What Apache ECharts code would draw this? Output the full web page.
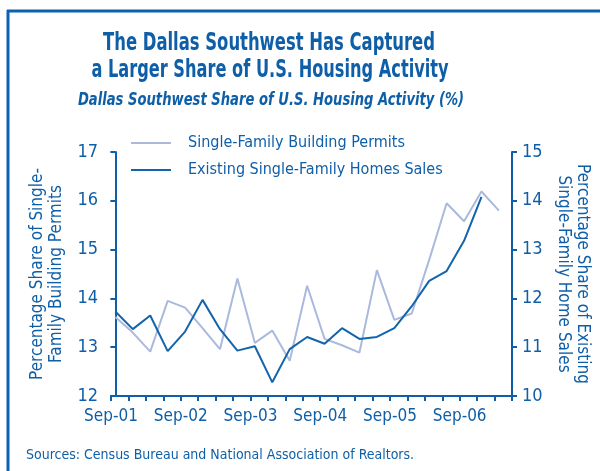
<!DOCTYPE html>
<html>
<head>
<meta charset="utf-8">
<script src="https://cdn.jsdelivr.net/npm/echarts@6/dist/echarts.min.js"></script>
<style>
  html, body { margin: 0; padding: 0; background: #fff; }
  #chart { width: 600px; height: 471px; }
</style>
</head>
<body>
<div id="chart"></div>
<script>
  // quarterly observations, first one just after Sep-01
  const tickLabels = ['Sep-01', 'Sep-02', 'Sep-03', 'Sep-04', 'Sep-05', 'Sep-06'];
  const permits = [13.62, 13.3, 12.91, 13.95, 13.81, 13.39, 12.96, 14.41, 13.09, 13.34, 12.72,
                   14.26, 13.17, 13.04, 12.89, 14.58, 13.56, 13.69, 14.79, 15.95, 15.58, 16.19, 15.8];
  const homeSales = [11.73, 11.37, 11.65, 10.92, 11.32, 11.97, 11.37, 10.93, 11.02, 10.28, 10.96,
                     11.21, 11.07, 11.39, 11.17, 11.21, 11.39, 11.84, 12.36, 12.56, 13.18, 14.08];

  const blue = '#0f5fa8';
  const font = '"DejaVu Sans Condensed", "Liberation Sans Narrow", Roboto, sans-serif';

  const chart = echarts.init(document.getElementById('chart'));

  const option = {
    animation: false,
    textStyle: { fontFamily: font, color: blue },
    grid: { left: 111, right: 88, top: 152, bottom: 75 },
    legend: {
      orient: 'vertical',
      left: 126,
      top: 130,
      icon: 'rect',
      itemWidth: 40,
      itemHeight: 2,
      itemGap: 11,
      textStyle: { fontFamily: font, fontSize: 16, color: blue, padding: [0, 0, 0, 12] },
      data: ['Single-Family Building Permits', 'Existing Single-Family Homes Sales']
    },
    xAxis: {
      type: 'value',
      min: -0.25,
      max: 22.75,
      interval: 1,
      splitLine: { show: false },
      axisLine: { lineStyle: { color: blue, width: 2 } },
      axisTick: { lineStyle: { color: blue, width: 2 }, length: 5 },
      axisLabel: {
        color: blue,
        fontSize: 17,
        margin: 12,
        formatter: v => {
          const q = Math.round(v + 0.25);
          return q % 4 === 0 && tickLabels[q / 4] ? tickLabels[q / 4] : '';
        }
      }
    },
    yAxis: [
      {
        type: 'value',
        min: 12,
        max: 17,
        interval: 1,
        splitLine: { show: false },
        axisLine: { show: true, lineStyle: { color: blue, width: 2 } },
        axisTick: { show: true, lineStyle: { color: blue, width: 2 }, length: 5 },
        axisLabel: { color: blue, fontSize: 18, margin: 13 },
        name: 'Percentage Share of Single-\nFamily Building Permits',
        nameLocation: 'middle',
        nameGap: 38,
        nameTextStyle: { fontSize: 17, color: blue, lineHeight: 19 }
      },
      {
        type: 'value',
        min: 10,
        max: 15,
        interval: 1,
        position: 'right',
        splitLine: { show: false },
        axisLine: { show: true, lineStyle: { color: blue, width: 2 } },
        axisTick: { show: true, lineStyle: { color: blue, width: 2 }, length: 5 },
        axisLabel: { color: blue, fontSize: 18, margin: 10 },
        name: 'Percentage Share of Existing\nSingle-Family Home Sales',
        nameLocation: 'middle',
        nameRotate: -90,
        nameGap: 42,
        nameTextStyle: { fontSize: 17, color: blue, lineHeight: 19 }
      }
    ],
    series: [
      {
        name: 'Single-Family Building Permits',
        type: 'line',
        yAxisIndex: 0,
        symbol: 'none',
        lineStyle: { color: '#aab9dc', width: 2 },
        itemStyle: { color: '#aab9dc' },
        data: permits.map((v, i) => [i, v])
      },
      {
        name: 'Existing Single-Family Homes Sales',
        type: 'line',
        yAxisIndex: 1,
        symbol: 'none',
        lineStyle: { color: '#1264ad', width: 2 },
        itemStyle: { color: '#1264ad' },
        data: homeSales.map((v, i) => [i, v])
      }
    ],
    graphic: [
      { type: 'line', shape: { x1: 7, y1: 11, x2: 600, y2: 11 }, style: { stroke: '#0b62b0', lineWidth: 3 } },
      { type: 'line', shape: { x1: 8, y1: 10, x2: 8, y2: 471 }, style: { stroke: '#0b62b0', lineWidth: 3 } },
      {
        type: 'text', x: 269, y: 43, scaleX: 0.73,
        style: { text: 'The Dallas Southwest Has Captured', align: 'center', verticalAlign: 'middle',
                 fill: blue, font: 'bold 25px ' + font }
      },
      {
        type: 'text', x: 270, y: 70, scaleX: 0.72,
        style: { text: 'a Larger Share of U.S. Housing Activity', align: 'center', verticalAlign: 'middle',
                 fill: blue, font: 'bold 25px ' + font }
      },
      {
        type: 'text', x: 271, y: 100, scaleX: 0.79,
        style: { text: 'Dallas Southwest Share of U.S. Housing Activity (%)', align: 'center', verticalAlign: 'middle',
                 fill: blue, font: 'italic bold 18.5px ' + font }
      },
      {
        type: 'text', x: 26, y: 455,
        style: { text: 'Sources: Census Bureau and National Association of Realtors.', align: 'left', verticalAlign: 'middle',
                 fill: blue, font: '14px ' + font }
      }
    ]
  };

  chart.setOption(option);
</script>
</body>
</html>
